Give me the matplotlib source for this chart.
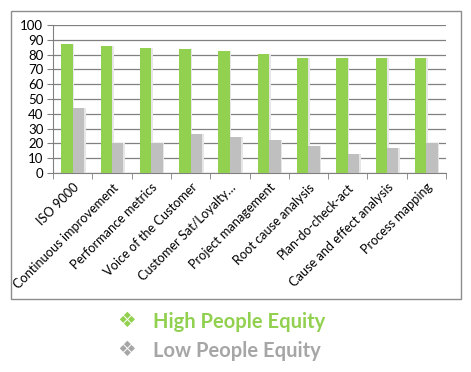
import matplotlib
matplotlib.use("Agg")
import matplotlib.pyplot as plt
import numpy as np
from matplotlib.patches import Rectangle

# data
categories = ["ISO 9000", "Continuous improvement", "Performance metrics",
              "Voice of the Customer", "Customer Sat/Loyalty\u2026",
              "Project management", "Root cause analysis", "Plan-do-check-act",
              "Cause and effect analysis", "Process mapping"]
high_equity = [87.5, 85.5, 84.5, 84, 82.5, 80.5, 78, 78, 78, 78]
low_equity = [44, 20.5, 20, 26.5, 24.5, 22, 18, 13, 17, 20]
series_names = ["High People Equity", "Low People Equity"]
y_ticks = list(range(0, 101, 10))

green = "#92D050"
grey = "#BFBFBF"
fonts = ["Lato", "DejaVu Sans"]

plt.rcParams["font.family"] = fonts

fig = plt.figure(figsize=(4.71, 3.72), dpi=100)
fig.patch.set_facecolor("white")

# outer chart border
fig.patches.append(Rectangle((11 / 471, 1 - 299 / 372), 450 / 471, 288 / 372,
                             transform=fig.transFigure, fill=False,
                             edgecolor="#8C8C8C", linewidth=1))

ax = fig.add_axes([53 / 471, 1 - 173 / 372, 393 / 471, 148 / 372])

x = np.arange(len(categories))
w = 0.29
# faint shadow behind bars
ax.bar(x - w / 2 + 0.04, high_equity, w, color="#E6E6E6", zorder=2)
ax.bar(x + w / 2 + 0.04, low_equity, w, color="#E6E6E6", zorder=2)
ax.bar(x - w / 2, high_equity, w, color=green, zorder=3)
ax.bar(x + w / 2, low_equity, w, color=grey, zorder=3)

ax.set_xlim(-0.5, len(categories) - 0.5)
ax.set_ylim(0, 100)
ax.set_yticks(y_ticks)
ax.tick_params(axis="y", labelsize=9.5, length=4, color="#808080", pad=3)
ax.yaxis.grid(True, color="#808080", linewidth=0.9, zorder=0)
ax.set_axisbelow(True)

ax.set_xticks(x)
ax.set_xticklabels(categories, rotation=45, ha="right", rotation_mode="anchor",
                   fontsize=9.2)
ax.tick_params(axis="x", length=0, pad=6)
ax.set_xticks(np.arange(-0.5, len(categories)), minor=True)
ax.tick_params(axis="x", which="minor", length=4, color="#808080")

for s in ["top", "right"]:
    ax.spines[s].set_visible(False)
ax.spines["left"].set_color("#808080")
ax.spines["bottom"].set_color("#808080")

# legend below the chart
fig.text(117 / 471, 1 - 321 / 372, "\u2756", color=green, fontsize=15,
         va="center", family=["DejaVu Sans"])
fig.text(153 / 471, 1 - 322 / 372, series_names[0], color=green,
         fontsize=14.5, fontweight="bold", va="center")
fig.text(117 / 471, 1 - 350 / 372, "\u2756", color="#A6A6A6", fontsize=15,
         va="center", family=["DejaVu Sans"])
fig.text(153 / 471, 1 - 351 / 372, series_names[1], color="#A6A6A6",
         fontsize=14.5, fontweight="bold", va="center")

fig.savefig("out.png", dpi=100, facecolor="white")
